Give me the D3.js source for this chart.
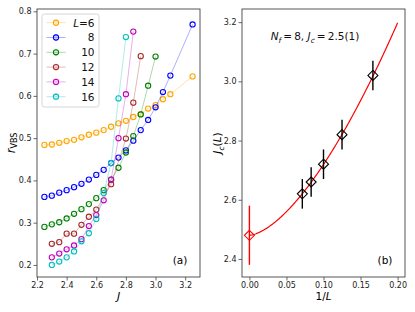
<!DOCTYPE html>
<html>
<head>
<meta charset="utf-8">
<script src="https://cdn.jsdelivr.net/npm/d3@7"></script>
<style>
  body { margin: 0; background: #fff; }
  svg { display: block; }
  text { font-family: "DejaVu Sans", sans-serif; }
</style>
</head>
<body>
<div id="chart"></div>
<script>
// ---- data ----
const sizes = [6, 8, 10, 12, 14, 16];
const colors = ['#ffa500', '#0000ff', '#008000', '#a52a2a', '#bf00bf', '#00bfbf'];

const J6 = [2.25, 2.30, 2.35, 2.40, 2.45, 2.50, 2.55, 2.60, 2.65, 2.70, 2.75, 2.80, 2.85, 2.90, 2.95, 3.00, 3.05, 3.10, 3.25];
const r6 = [0.484, 0.485, 0.489, 0.493, 0.496, 0.502, 0.508, 0.513, 0.519, 0.527, 0.535, 0.541, 0.550, 0.557, 0.570, 0.578, 0.592, 0.604, 0.646];
const J8 = [2.25, 2.30, 2.35, 2.40, 2.45, 2.50, 2.55, 2.60, 2.65, 2.70, 2.75, 2.80, 2.85, 2.90, 2.95, 3.00, 3.05, 3.10, 3.25];
const r8 = [0.361, 0.364, 0.371, 0.377, 0.384, 0.392, 0.402, 0.413, 0.425, 0.441, 0.454, 0.471, 0.494, 0.519, 0.543, 0.573, 0.609, 0.648, 0.769];
const J10 = [2.25, 2.30, 2.35, 2.40, 2.45, 2.50, 2.55, 2.60, 2.65, 2.70, 2.75, 2.80, 2.85, 2.90, 2.95, 3.00];
const r10 = [0.290, 0.296, 0.301, 0.310, 0.321, 0.332, 0.344, 0.358, 0.377, 0.402, 0.430, 0.466, 0.505, 0.556, 0.624, 0.693];
const J12 = [2.30, 2.35, 2.40, 2.45, 2.50, 2.55, 2.60, 2.70, 2.80, 2.85, 2.90];
const r12 = [0.250, 0.254, 0.274, 0.274, 0.295, 0.314, 0.331, 0.391, 0.499, 0.584, 0.694];
const J14 = [2.30, 2.35, 2.40, 2.45, 2.50, 2.55, 2.60, 2.65, 2.70, 2.75, 2.80, 2.85];
const r14 = [0.218, 0.227, 0.237, 0.246, 0.261, 0.292, 0.318, 0.353, 0.402, 0.500, 0.604, 0.752];
const J16 = [2.30, 2.35, 2.40, 2.45, 2.50, 2.55, 2.60, 2.65, 2.70, 2.75, 2.80];
const r16 = [0.200, 0.208, 0.218, 0.232, 0.256, 0.275, 0.309, 0.370, 0.441, 0.594, 0.739];

const Jseries = [J6, J8, J10, J12, J14, J16];
const rseries = [r6, r8, r10, r12, r14, r16];

// panel (b): crossing points J_c(L) vs 1/L
const invL = [0, 1 / 14, 1 / 12, 1 / 10, 1 / 8, 1 / 6];
const JcL = [2.48, 2.62, 2.66, 2.72, 2.82, 3.02];
const JcErr = [0.10, 0.05, 0.05, 0.05, 0.05, 0.05];
// fit J_c(L) = Jc + a * (1/L)^p
const fitJc = 2.48, fitA = 9.2, fitP = 1.585;

const xTicksA = [2.2, 2.4, 2.6, 2.8, 3.0, 3.2];
const yTicksA = [0.2, 0.3, 0.4, 0.5, 0.6, 0.7, 0.8];
const xTicksB = [0.00, 0.05, 0.10, 0.15, 0.20];
const yTicksB = [2.4, 2.6, 2.8, 3.0, 3.2];

// ---- layout ----
const width = 415, height = 312;
const plotTop = 9, plotBottom = 277;
const panelA = { left: 37, right: 200 };
const panelB = { left: 242, right: 405 };
const frameColor = '#444';
const tickColor = '#222';

const svg = d3.select('#chart').append('svg')
  .attr('width', width)
  .attr('height', height);

function drawFrame(g, x, y, xTicks, yTicks, xFmt, yFmt) {
  const xAxis = g.append('g')
    .attr('transform', `translate(0,${plotBottom})`)
    .call(d3.axisBottom(x).tickValues(xTicks).tickFormat(xFmt).tickSize(3.5).tickPadding(2));
  const yAxis = g.append('g')
    .attr('transform', `translate(${x.range()[0]},0)`)
    .call(d3.axisLeft(y).tickValues(yTicks).tickFormat(yFmt).tickSize(3.5).tickPadding(2));
  [xAxis, yAxis].forEach(a => {
    a.select('.domain').remove();
    a.selectAll('line').attr('stroke', frameColor).attr('stroke-width', 0.8);
    a.selectAll('text').attr('fill', tickColor).style('font-size', '8px');
  });
  g.append('rect')
    .attr('x', x.range()[0]).attr('y', plotTop)
    .attr('width', x.range()[1] - x.range()[0])
    .attr('height', plotBottom - plotTop)
    .attr('fill', 'none')
    .attr('stroke', frameColor)
    .attr('stroke-width', 0.9);
}

// ---- panel (a) ----
const xA = d3.scaleLinear().domain([2.2, 3.3]).range([panelA.left, panelA.right]);
const yA = d3.scaleLinear().domain([0.1715, 0.8055]).range([plotBottom, plotTop]);
const gA = svg.append('g');

const line = d3.line().x(d => xA(d[0])).y(d => yA(d[1]));
sizes.forEach((L, i) => {
  const pts = Jseries[i].map((j, k) => [j, rseries[i][k]]);
  const s = gA.append('g');
  s.append('path')
    .attr('d', line(pts))
    .attr('fill', 'none')
    .attr('stroke', colors[i])
    .attr('stroke-opacity', 0.4)
    .attr('stroke-width', 0.8);
  s.selectAll('circle').data(pts).join('circle')
    .attr('cx', d => xA(d[0]))
    .attr('cy', d => yA(d[1]))
    .attr('r', 2.6)
    .attr('fill', 'none')
    .attr('stroke', colors[i])
    .attr('stroke-width', 1.1);
});

drawFrame(gA, xA, yA, xTicksA, yTicksA, d3.format('.1f'), d3.format('.1f'));

// legend
const leg = gA.append('g');
leg.append('rect')
  .attr('x', 42).attr('y', 14).attr('width', 57).attr('height', 93)
  .attr('rx', 2.5)
  .attr('fill', '#fff').attr('fill-opacity', 0.8)
  .attr('stroke', '#ccc').attr('stroke-width', 0.8);
sizes.forEach((L, i) => {
  const yy = 22.7 + i * 14.8;
  leg.append('line')
    .attr('x1', 46.5).attr('x2', 65.5).attr('y1', yy).attr('y2', yy)
    .attr('stroke', colors[i]).attr('stroke-opacity', 0.4).attr('stroke-width', 0.8);
  leg.append('line')
    .attr('x1', 56).attr('x2', 56).attr('y1', yy - 3.5).attr('y2', yy + 3.5)
    .attr('stroke', colors[i]).attr('stroke-opacity', 0.4).attr('stroke-width', 0.8);
  leg.append('circle')
    .attr('cx', 56).attr('cy', yy).attr('r', 2.6)
    .attr('fill', 'none').attr('stroke', colors[i]).attr('stroke-width', 1.1);
  const t = leg.append('text')
    .attr('x', 94.5).attr('y', yy + 3.8)
    .attr('text-anchor', 'end')
    .style('font-size', '10.5px')
    .attr('fill', '#111');
  if (i === 0) {
    t.append('tspan').style('font-style', 'italic').text('L');
    t.append('tspan').text('=' + L);
  } else {
    t.text(L);
  }
});

// axis labels (a)
gA.append('text')
  .attr('x', (panelA.left + panelA.right) / 2).attr('y', 300)
  .attr('text-anchor', 'middle')
  .style('font-size', '11px').style('font-style', 'italic')
  .text('J');
const ylabA = gA.append('text')
  .attr('transform', `translate(15,${(plotTop + plotBottom) / 2}) rotate(-90)`)
  .attr('text-anchor', 'middle')
  .style('font-size', '11.5px');
ylabA.append('tspan').style('font-style', 'italic').text('r');
ylabA.append('tspan').attr('dy', 2.2).style('font-size', '8px').text('VBS');

gA.append('text')
  .attr('x', 180).attr('y', 264)
  .attr('text-anchor', 'middle')
  .style('font-size', '10.5px')
  .text('(a)');

// ---- panel (b) ----
const xB = d3.scaleLinear().domain([-0.01, 0.21]).range([panelB.left, panelB.right]);
const yB = d3.scaleLinear().domain([2.339, 3.2445]).range([plotBottom, plotTop]);
const gB = svg.append('g');

const fitPts = d3.range(0, 201).map(k => {
  const u = k * 0.001;
  return [u, fitJc + fitA * Math.pow(u, fitP)];
});
gB.append('path')
  .attr('d', d3.line().x(d => xB(d[0])).y(d => yB(d[1]))(fitPts))
  .attr('fill', 'none')
  .attr('stroke', '#ff0000')
  .attr('stroke-width', 1.2);

const diamond = 'M0,-5L5,0L0,5L-5,0Z';
invL.forEach((u, i) => {
  const c = i === 0 ? '#ff0000' : '#000';
  gB.append('line')
    .attr('x1', xB(u)).attr('x2', xB(u))
    .attr('y1', yB(JcL[i] - JcErr[i])).attr('y2', yB(JcL[i] + JcErr[i]))
    .attr('stroke', c).attr('stroke-width', 1.4);
  gB.append('path')
    .attr('d', diamond)
    .attr('transform', `translate(${xB(u)},${yB(JcL[i])})`)
    .attr('fill', 'none')
    .attr('stroke', c)
    .attr('stroke-width', 1.1);
});

drawFrame(gB, xB, yB, xTicksB, yTicksB, d3.format('.2f'), d3.format('.1f'));

// title inside (b)
const title = gB.append('text')
  .attr('x', 315).attr('y', 40)
  .attr('text-anchor', 'middle')
  .style('font-size', '10.5px')
  .attr('fill', '#111');
title.append('tspan').style('font-style', 'italic').text('N');
title.append('tspan').attr('dy', 2.5).style('font-size', '7.5px').style('font-style', 'italic').text('f');
title.append('tspan').attr('dy', -2.5).text('\u2009=\u20098, ');
title.append('tspan').style('font-style', 'italic').text('J');
title.append('tspan').attr('dy', 2.5).style('font-size', '7.5px').style('font-style', 'italic').text('c');
title.append('tspan').attr('dy', -2.5).text('\u2009=\u20092.5(1)');

gB.append('text')
  .attr('x', (panelB.left + panelB.right) / 2).attr('y', 300)
  .attr('text-anchor', 'middle')
  .style('font-size', '10.5px')
  .call(t => {
    t.append('tspan').text('1/');
    t.append('tspan').style('font-style', 'italic').text('L');
  });

const ylabB = gB.append('text')
  .attr('transform', `translate(221,${(plotTop + plotBottom) / 2}) rotate(-90)`)
  .attr('text-anchor', 'middle')
  .style('font-size', '10.5px');
ylabB.append('tspan').style('font-style', 'italic').text('J');
ylabB.append('tspan').attr('dy', 2.5).style('font-size', '7.5px').style('font-style', 'italic').text('c');
ylabB.append('tspan').attr('dy', -2.5).text('(');
ylabB.append('tspan').style('font-style', 'italic').text('L');
ylabB.append('tspan').text(')');

gB.append('text')
  .attr('x', 385).attr('y', 264)
  .attr('text-anchor', 'middle')
  .style('font-size', '10.5px')
  .text('(b)');
</script>
</body>
</html>
